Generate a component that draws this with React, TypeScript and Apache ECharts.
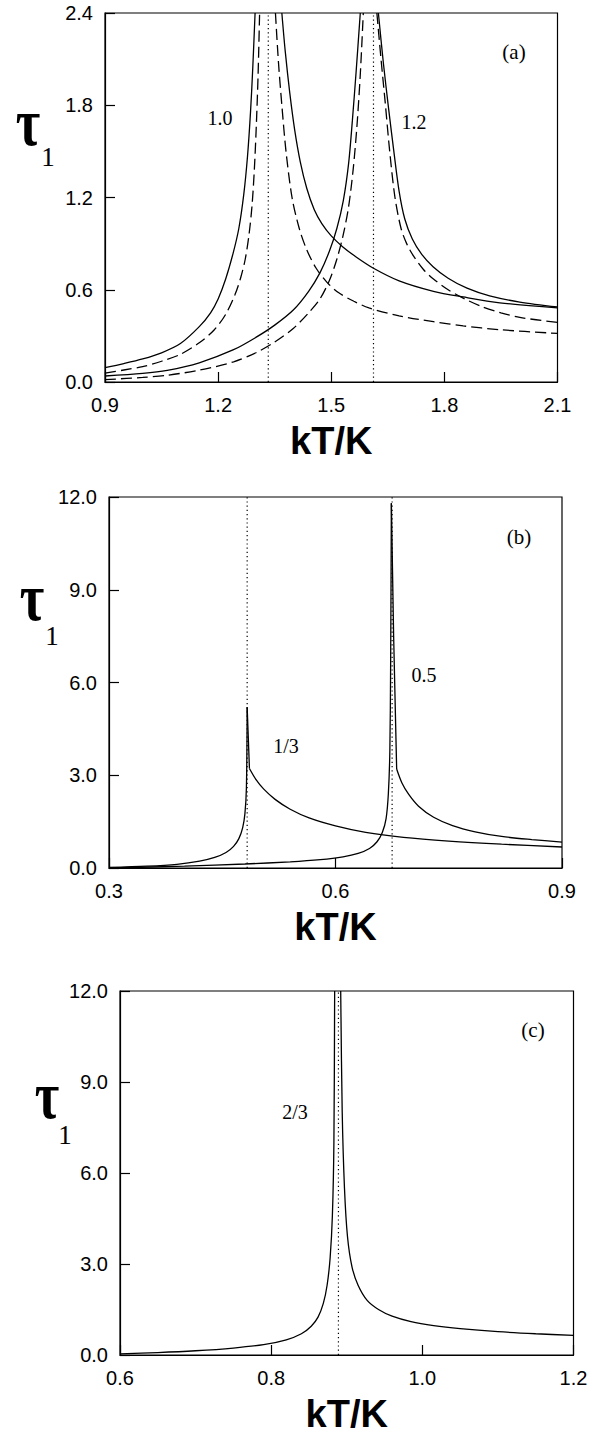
import React, { useEffect, useRef } from "react";
import * as echarts from "echarts";

// ---------- Panel (a): axis ranges [min, max, interval] ----------
const aXRange = [0.9, 2.1, 0.3];
const aYRange = [0, 2.4, 0.6];
const aCritical = [1.333, 1.612];
const aCurveLabels = ["1.0", "1.2"];

const aSolid10Lower = [[0.9,0.094],[0.95,0.12],[1.0,0.15],[1.05,0.19],[1.1,0.25],[1.15,0.36],[1.18,0.45],[1.2,0.54],[1.22,0.67],[1.24,0.84],[1.255,1.0],[1.268,1.22],[1.278,1.47],[1.286,1.76],[1.292,2.05],[1.298,2.4]];
const aSolid10Upper = [[1.369,2.4],[1.378,2.15],[1.39,1.88],[1.403,1.64],[1.418,1.43],[1.435,1.26],[1.455,1.12],[1.475,1.03],[1.5,0.95],[1.53,0.88],[1.565,0.815],[1.612,0.74],[1.68,0.658],[1.771,0.59],[1.85,0.553],[1.947,0.515],[2.1,0.482]];
const aDashed10Lower = [[0.9,0.058],[0.95,0.078],[1.0,0.1],[1.05,0.135],[1.1,0.18],[1.15,0.255],[1.19,0.34],[1.22,0.44],[1.245,0.57],[1.26,0.68],[1.272,0.8],[1.282,0.96],[1.29,1.15],[1.296,1.38],[1.301,1.65],[1.306,2.0],[1.31,2.4]];
const aDashed10Upper = [[1.352,2.4],[1.36,2.08],[1.369,1.8],[1.38,1.5],[1.396,1.2],[1.415,1.0],[1.435,0.86],[1.46,0.74],[1.49,0.645],[1.52,0.58],[1.56,0.525],[1.6,0.482],[1.68,0.43],[1.771,0.392],[1.85,0.365],[1.947,0.34],[2.1,0.316]];
const aSolid12Lower = [[0.9,0.039],[1.0,0.056],[1.065,0.076],[1.15,0.125],[1.241,0.21],[1.3,0.29],[1.35,0.37],[1.4,0.47],[1.44,0.59],[1.47,0.71],[1.495,0.85],[1.515,1.0],[1.532,1.18],[1.546,1.42],[1.556,1.7],[1.566,2.02],[1.577,2.4]];
const aDashed12Lower = [[0.9,0.015],[1.0,0.03],[1.065,0.044],[1.15,0.077],[1.241,0.131],[1.3,0.19],[1.35,0.26],[1.4,0.35],[1.44,0.45],[1.47,0.54],[1.495,0.66],[1.515,0.8],[1.532,0.96],[1.546,1.14],[1.558,1.38],[1.568,1.66],[1.577,2.0],[1.585,2.4]];
const aSolid12Upper = [[1.625,2.4],[1.638,2.08],[1.652,1.78],[1.666,1.5],[1.68,1.24],[1.695,1.06],[1.715,0.93],[1.74,0.83],[1.77,0.75],[1.81,0.675],[1.86,0.61],[1.92,0.56],[2.0,0.52],[2.1,0.488]];
const aDashed12Upper = [[1.621,2.4],[1.632,2.1],[1.643,1.82],[1.655,1.5],[1.669,1.2],[1.685,1.0],[1.7,0.9],[1.718,0.82],[1.745,0.73],[1.771,0.67],[1.81,0.6],[1.85,0.545],[1.9,0.49],[1.95,0.45],[2.0,0.42],[2.1,0.388]];

// ---------- Panel (b) ----------
const bXRange = [0.3, 0.9, 0.3];
const bYRange = [0, 12, 3];
const bCritical = [0.483, 0.675];
const bCurveLabels = ["1/3", "0.5"];
const bThirdLeft = [[0.3,0.02],[0.35,0.06],[0.39,0.12],[0.42,0.22],[0.44,0.34],[0.455,0.5],[0.465,0.7],[0.472,0.95],[0.477,1.3],[0.48,1.75],[0.482,2.6],[0.483,5.2]];
const bThirdRight = [[0.483,5.2],[0.486,3.22]];
const bThirdTail = [[0.486,3.22],[0.495,2.85],[0.505,2.55],[0.52,2.22],[0.54,1.9],[0.565,1.62],[0.6,1.36],[0.64,1.15],[0.69,0.99],[0.75,0.87],[0.82,0.77],[0.9,0.68]];
const bHalfLeft = [[0.3,0.0],[0.4,0.06],[0.48,0.13],[0.54,0.2],[0.58,0.27],[0.61,0.36],[0.63,0.47],[0.645,0.63],[0.655,0.85],[0.662,1.15],[0.667,1.6],[0.67,2.4],[0.672,3.8],[0.673,6.5],[0.674,11.8]];
const bHalfRight = [[0.674,11.8],[0.677,7.5],[0.681,3.2]];
const bHalfTail = [[0.681,3.2],[0.688,2.75],[0.697,2.38],[0.71,2.0],[0.73,1.64],[0.755,1.37],[0.785,1.17],[0.82,1.02],[0.86,0.92],[0.9,0.84]];

// ---------- Panel (c) ----------
const cXRange = [0.6, 1.2, 0.2];
const cYRange = [0, 12, 3];
const cCritical = [0.889];
const cCurveLabels = ["2/3"];
const cLower = [[0.6,0.04],[0.65,0.08],[0.7,0.14],[0.75,0.23],[0.79,0.34],[0.82,0.5],[0.84,0.7],[0.853,0.95],[0.862,1.25],[0.869,1.7],[0.874,2.3],[0.878,3.2],[0.881,4.6],[0.883,7.0],[0.884,12]];
const cUpper = [[0.892,12],[0.894,8.0],[0.897,5.5],[0.901,3.9],[0.907,2.9],[0.915,2.3],[0.927,1.8],[0.942,1.5],[0.96,1.28],[0.985,1.1],[1.015,0.97],[1.05,0.87],[1.1,0.77],[1.15,0.7],[1.2,0.645]];

const panelTags = ["(a)", "(b)", "(c)"];
const xName = "kT/K";

const SANS = "'Liberation Sans', Arial, sans-serif";
const SERIF = "'Liberation Serif', 'Times New Roman', serif";

export default function App() {
  const ref = useRef<HTMLDivElement>(null);
  useEffect(() => {
    const chart = echarts.init(ref.current!, null, { renderer: "svg" });

    const grids = [
      { left: 105, top: 13, width: 452.5, height: 369 },
      { left: 109, top: 497, width: 453, height: 371 },
      { left: 120, top: 991, width: 453.5, height: 367 },
    ].map((g) => ({ ...g, show: true, borderColor: "#000", borderWidth: 1.2, backgroundColor: "transparent" }));

    const fmt = (v: number) => v.toFixed(1);
    const xAx = (gi: number, r: number[]) => ({
      type: "value", gridIndex: gi, min: r[0], max: r[1], interval: r[2],
      axisLine: { show: true, lineStyle: { color: "#000", width: 1.2 } },
      axisTick: { show: true, inside: true, length: 10, lineStyle: { color: "#000", width: 1.2 } },
      splitLine: { show: false },
      axisLabel: { formatter: fmt, fontSize: 20, color: "#000", fontFamily: SANS, margin: 13, showMinLabel: true, showMaxLabel: true },
      name: xName, nameLocation: "middle", nameGap: 40,
      nameTextStyle: { fontSize: 38, fontWeight: "bold", fontFamily: SANS, color: "#000" },
    });
    const yAx = (gi: number, r: number[]) => ({
      type: "value", gridIndex: gi, min: r[0], max: r[1], interval: r[2],
      axisLine: { show: true, lineStyle: { color: "#000", width: 1.2 } },
      axisTick: { show: true, inside: true, length: 10, lineStyle: { color: "#000", width: 1.2 } },
      splitLine: { show: false },
      axisLabel: { formatter: fmt, fontSize: 20, color: "#000", fontFamily: SANS, margin: 12, showMinLabel: true, showMaxLabel: true },
    });

    const line = (data: number[][], gi: number, type: any = "solid", width = 1.3, smooth: any = 0.3) => ({
      type: "line", xAxisIndex: gi, yAxisIndex: gi, data, symbol: "none", showSymbol: false,
      smooth,
      silent: true, lineStyle: { color: "#000", width, type }, z: 3,
    });
    const dashed = [11, 5];
    const dotted = [1.2, 3];
    const crit = (vals: number[], gi: number, yr: number[]) =>
      vals.map((v) => line([[v, yr[0]], [v, yr[1]]], gi, dotted, 1.2, false));

    const series = [
      line(aSolid10Lower, 0), line(aSolid10Upper, 0),
      line(aDashed10Lower, 0, dashed), line(aDashed10Upper, 0, dashed),
      line(aSolid12Lower, 0), line(aSolid12Upper, 0),
      line(aDashed12Lower, 0, dashed), line(aDashed12Upper, 0, dashed),
      ...crit(aCritical, 0, aYRange),
      line(bThirdLeft, 1), line(bThirdRight, 1, "solid", 1.3, false), line(bThirdTail, 1),
      line(bHalfLeft, 1), line(bHalfRight, 1, "solid", 1.3, false), line(bHalfTail, 1),
      ...crit(bCritical, 1, bYRange),
      line(cLower, 2), line(cUpper, 2),
      ...crit(cCritical, 2, cYRange),
    ];

    const txt = (text: string, x: number, y: number, fontSize: number, fontFamily = SERIF, extra: any = {}, fontWeight = "normal") => ({
      type: "text", x, y, silent: true, ...extra,
      style: { text, fontSize, fontFamily, fontWeight, fill: "#000", textAlign: "center", textVerticalAlign: "middle" },
    });

    const tauLabels = [
      [28, 122, 48, 157],
      [32, 597, 52, 636],
      [47, 1095, 65, 1135],
    ];
    const graphic: any[] = [];
    tauLabels.forEach(([tx, ty, sx, sy]) => {
      graphic.push(txt("τ", tx, ty, 68, SERIF, { scaleX: 0.78 }, "bold"));
      graphic.push(txt("1", sx, sy, 27, SERIF));
    });
    graphic.push(txt(panelTags[0], 514, 52, 21));
    graphic.push(txt(panelTags[1], 519, 537, 21));
    graphic.push(txt(panelTags[2], 533, 1030, 21));
    graphic.push(txt(aCurveLabels[0], 220, 118, 20));
    graphic.push(txt(aCurveLabels[1], 414, 122, 20));
    graphic.push(txt(bCurveLabels[0], 286, 746, 20));
    graphic.push(txt(bCurveLabels[1], 424, 675, 20));
    graphic.push(txt(cCurveLabels[0], 295, 1112, 20));

    chart.setOption({
      animation: false,
      backgroundColor: "#fff",
      grid: grids,
      xAxis: [xAx(0, aXRange), xAx(1, bXRange), xAx(2, cXRange)],
      yAxis: [yAx(0, aYRange), yAx(1, bYRange), yAx(2, cYRange)],
      series,
      graphic,
    });
    return () => chart.dispose();
  }, []);
  return <div ref={ref} style={{ position: "absolute", left: 0, top: 0, width: 603, height: 1434 }} />;
}
